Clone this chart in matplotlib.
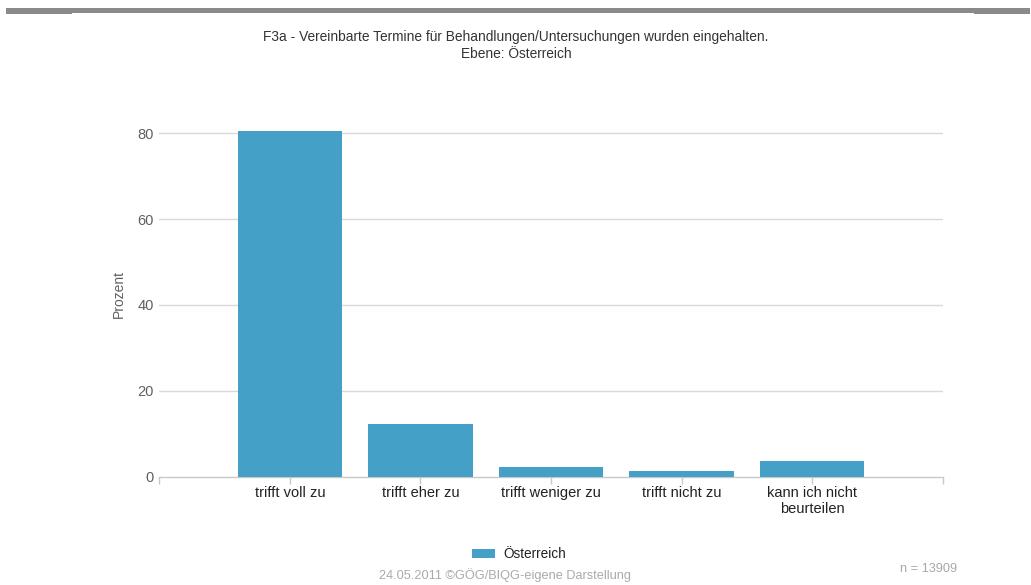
import matplotlib
matplotlib.use("Agg")
import matplotlib.pyplot as plt
from matplotlib.patches import Rectangle, Patch

plt.rcParams['font.family'] = ['Liberation Sans', 'DejaVu Sans']

# Data
categories = ["trifft voll zu", "trifft eher zu", "trifft weniger zu",
              "trifft nicht zu", "kann ich nicht\nbeurteilen"]
prozent = [80.6, 12.2, 2.2, 1.3, 3.7]
series_name = "Österreich"
y_ticks = [0, 20, 40, 60, 80]

title = ("F3a - Vereinbarte Termine für Behandlungen/Untersuchungen wurden eingehalten.\n"
         "Ebene: Österreich")
footer = "24.05.2011 ©GÖG/BIQG-eigene Darstellung"
n_text = "n = 13909"

W, H = 1031, 585
bar_color = "#45a0c7"
grid_color = "#d9d9d9"

fig = plt.figure(figsize=(W / 100, H / 100), dpi=100)
fig.patch.set_facecolor("white")

# Grey header band
fig.patches.append(Rectangle((6 / W, 1 - 12.5 / H), (1030 - 6) / W, 4.5 / H,
                             transform=fig.transFigure, color="#8a8a8a", lw=0))
fig.patches.append(Rectangle((6 / W, 1 - 14 / H), 66 / W, 2 / H,
                             transform=fig.transFigure, color="#8a8a8a", lw=0))
fig.patches.append(Rectangle((974 / W, 1 - 14 / H), 56 / W, 2 / H,
                             transform=fig.transFigure, color="#8a8a8a", lw=0))

ymax = 85
px_per_unit = (476.7 - 133.3) / 80
left, right = 159.3, 942.7
bottom_px = 476.7
top_px = bottom_px - ymax * px_per_unit
ax = fig.add_axes([left / W, 1 - bottom_px / H, (right - left) / W, (bottom_px - top_px) / H])

x = list(range(len(categories)))
ax.bar(x, prozent, width=0.8, color=bar_color, zorder=3)

ax.set_xlim(-1, len(categories))
ax.set_ylim(0, ymax)

# Axis styling
for side in ("top", "right", "left"):
    ax.spines[side].set_visible(False)
ax.spines["bottom"].set_color("#c8c8c8")
ax.spines["bottom"].set_linewidth(1.0)

ax.set_yticks(y_ticks)
ax.set_yticklabels([str(v) for v in y_ticks])
ax.tick_params(axis="y", length=0, pad=4, labelsize=10.5, labelcolor="#606060")
for v in y_ticks[1:]:
    ax.axhline(v, color=grid_color, lw=1.0, zorder=1)

ax.set_xticks(list(range(-1, len(categories) + 1)))
ax.set_xticklabels([""] + categories + [""], linespacing=1.12)
ax.tick_params(axis="x", length=5, width=1, color="#c8c8c8", pad=2,
               labelsize=10.5, labelcolor="#222222")

ax.set_ylabel("Prozent", fontsize=10, color="#606060", labelpad=8)

fig.text(516 / W, 1 - 45.5 / H, title, ha="center", va="center",
         fontsize=9.9, color="#333333", linespacing=1.3)

fig.legend(handles=[Patch(facecolor=bar_color, edgecolor="none", label=series_name)],
           loc="center", bbox_to_anchor=(519 / W, 1 - 554 / H), frameon=False,
           fontsize=9.8, handlelength=1.7, handleheight=0.6, handletextpad=0.6,
           labelcolor="#222222")

fig.text(505 / W, 1 - 575 / H, footer, ha="center", va="center",
         fontsize=9.2, color="#aaaaaa")
fig.text(957 / W, 1 - 569 / H, n_text, ha="right", va="center",
         fontsize=9.2, color="#a8a8a8")

fig.savefig("out.png", dpi=100, facecolor="white")
